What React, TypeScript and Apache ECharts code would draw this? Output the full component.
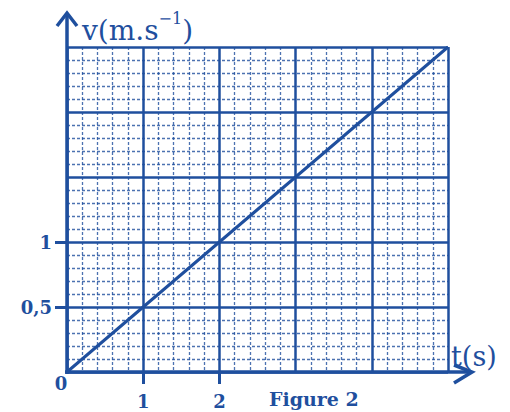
import React, { useEffect, useRef } from "react";
import * as echarts from "echarts";

// Data: v = f(t)
const timeValues = [0, 1, 2, 3, 4, 5];
const speedValues = [0, 0.5, 1, 1.5, 2, 2.5];
const xTickValues = [1, 2];
const yTickValues = [0.5, 1];
const yTickTexts = ["0,5", "1"];
const originLabel = "0";
const xAxisName = "t(s)";
const yAxisNameMain = "v(m.s";
const yAxisNameSup = "−1";
const caption = "Figure 2";

const BLUE = "#1f4f9e";
const SERIF = "DejaVu Serif";

export default function App() {
  const ref = useRef<HTMLDivElement>(null);

  useEffect(() => {
    const chart = echarts.init(ref.current!, null, { renderer: "svg" });
    const labelStyle = {
      color: BLUE,
      fontFamily: SERIF,
      fontWeight: "bold",
      fontSize: 18,
    };
    const gridAxis = {
      type: "value",
      axisLine: { show: false },
      axisTick: { show: false },
      axisLabel: { show: false },
      splitLine: { show: true, lineStyle: { color: BLUE, width: 2.5 } },
      minorTick: { show: false, splitNumber: 5 },
      minorSplitLine: {
        show: true,
        lineStyle: { color: BLUE, width: 1.3, type: [3, 2], opacity: 0.8 },
      },
    };
    const tickAxis = {
      type: "value",
      axisLine: { show: false },
      splitLine: { show: false },
      minorSplitLine: { show: false },
    };
    chart.setOption({
      animation: false,
      backgroundColor: "#ffffff",
      grid: { left: 67, top: 47, width: 381, height: 325 },
      xAxis: [
        { ...gridAxis, min: 0, max: 5, interval: 1 },
        {
          ...tickAxis,
          position: "bottom",
          min: 0,
          max: 5,
          interval: 1,
          axisTick: {
            show: true,
            customValues: xTickValues,
            length: 12,
            lineStyle: { color: BLUE, width: 3 },
          },
          axisLabel: {
            customValues: xTickValues,
            formatter: (v: number) => String(v),
            margin: 20,
            ...labelStyle,
          },
        },
      ],
      yAxis: [
        { ...gridAxis, min: 0, max: 2.5, interval: 0.5 },
        {
          ...tickAxis,
          position: "left",
          min: 0,
          max: 2.5,
          interval: 0.5,
          axisTick: {
            show: true,
            customValues: yTickValues,
            length: 12,
            lineStyle: { color: BLUE, width: 3 },
          },
          axisLabel: {
            customValues: yTickValues,
            formatter: (v: number) => yTickTexts[yTickValues.indexOf(v)] ?? "",
            margin: 15,
            ...labelStyle,
          },
        },
      ],
      series: [
        {
          type: "line",
          xAxisIndex: 0,
          yAxisIndex: 0,
          data: timeValues.map((t, i) => [t, speedValues[i]]),
          showSymbol: false,
          symbol: "none",
          clip: false,
          lineStyle: { color: BLUE, width: 3 },
        },
      ],
      graphic: [
        {
          type: "line",
          shape: { x1: 67, y1: 374, x2: 67, y2: 15 },
          style: { stroke: BLUE, lineWidth: 3.5 },
        },
        {
          type: "polyline",
          shape: { points: [[57, 26], [67, 13], [77, 26]] },
          style: { stroke: BLUE, lineWidth: 3.5, fill: null },
        },
        {
          type: "line",
          shape: { x1: 65, y1: 372, x2: 471, y2: 372 },
          style: { stroke: BLUE, lineWidth: 3.5 },
        },
        {
          type: "polyline",
          shape: { points: [[454, 365], [472, 372], [454, 383]] },
          style: { stroke: BLUE, lineWidth: 3.5, fill: null },
        },
        {
          type: "text",
          x: 61,
          y: 383,
          style: {
            text: originLabel,
            fill: BLUE,
            font: `bold 18px "${SERIF}"`,
            align: "center",
            verticalAlign: "middle",
          },
        },
        {
          type: "text",
          x: 82,
          y: 10,
          style: {
            text: `{a|${yAxisNameMain}}{b|${yAxisNameSup}}{a|)}`,
            fill: BLUE,
            rich: {
              a: {
                fontFamily: SERIF,
                fontSize: 28,
                lineHeight: 34,
                color: BLUE,
                verticalAlign: "bottom",
              },
              b: {
                fontFamily: SERIF,
                fontSize: 16,
                lineHeight: 18,
                color: BLUE,
                verticalAlign: "top",
              },
            },
          },
        },
        {
          type: "text",
          x: 451,
          y: 356,
          style: {
            text: xAxisName,
            fill: BLUE,
            font: `27px "${SERIF}"`,
            align: "left",
            verticalAlign: "middle",
          },
        },
        {
          type: "text",
          x: 269,
          y: 399,
          style: {
            text: caption,
            fill: BLUE,
            font: `bold 19px "${SERIF}"`,
            align: "left",
            verticalAlign: "middle",
          },
        },
      ],
    });
    return () => chart.dispose();
  }, []);

  return (
    <div
      ref={ref}
      style={{ position: "fixed", left: 0, top: 0, width: 510, height: 412 }}
    />
  );
}
